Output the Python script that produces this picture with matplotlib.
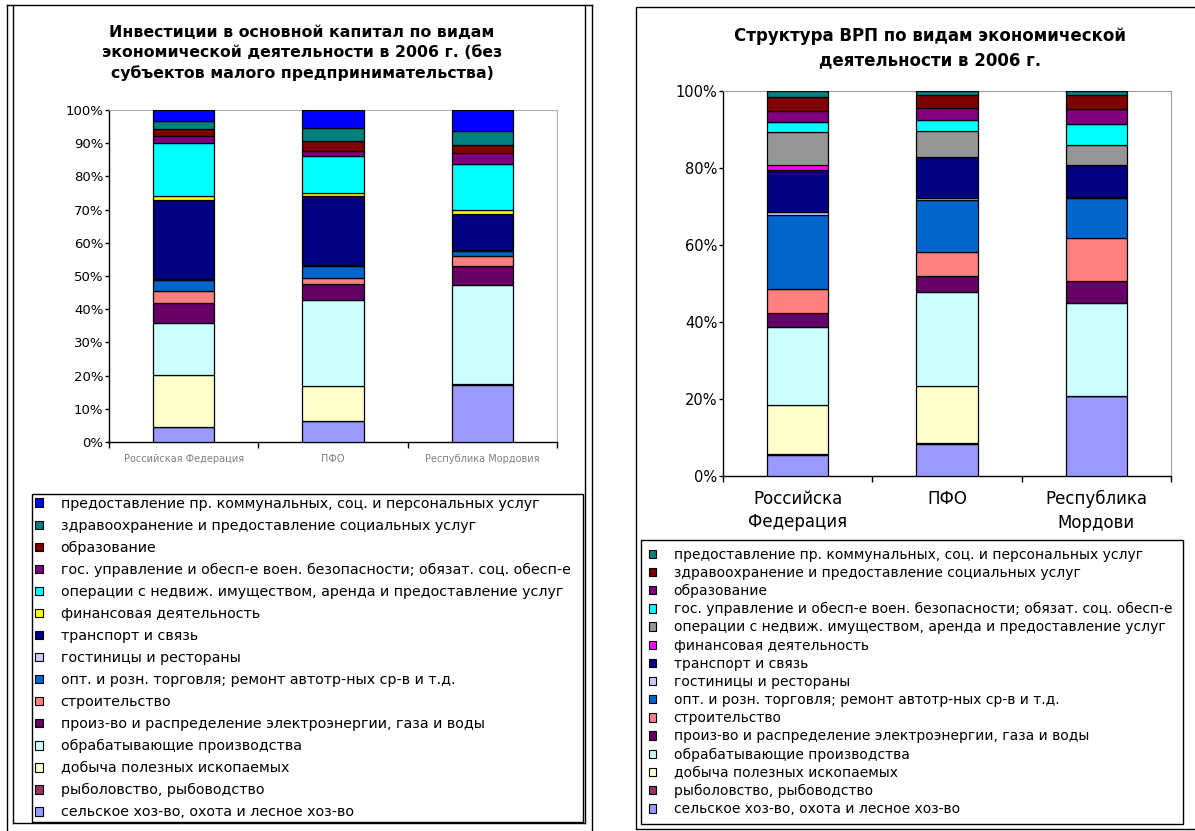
import matplotlib
matplotlib.use('Agg')
import matplotlib.pyplot as plt
from matplotlib.patches import Patch, Rectangle
from matplotlib.lines import Line2D
from matplotlib.ticker import FuncFormatter, FixedLocator

plt.rcParams['font.family'] = ['DejaVu Sans']

W, H = 1195, 831

regions_left = ['Российская Федерация', 'ПФО', 'Республика Мордовия']
regions_right = ['Российска\nФедерация', 'ПФО', 'Республика\nМордови\nя']

# виды деятельности снизу вверх
sectors = [
    'сельское хоз-во, охота и лесное хоз-во',
    'рыболовство, рыбоводство',
    'добыча полезных ископаемых',
    'обрабатывающие производства',
    'произ-во и распределение электроэнергии, газа и воды',
    'строительство',
    'опт. и розн. торговля; ремонт автотр-ных ср-в и т.д.',
    'гостиницы и рестораны',
    'транспорт и связь',
    'финансовая деятельность',
    'операции с недвиж. имуществом, аренда и предоставление услуг',
    'гос. управление и обесп-е воен. безопасности; обязат. соц. обесп-е',
    'образование',
    'здравоохранение и предоставление социальных услуг',
    'предоставление пр. коммунальных, соц. и персональных услуг',
]

# инвестиции, % (РФ, ПФО, Мордовия)
inv_rf = [4.5, 0.1, 15.7, 15.4, 6.3, 3.4, 3.5, 0.3, 23.7, 1.2, 16.1, 1.9, 2.1, 2.6, 3.2]
inv_pfo = [6.3, 0.1, 10.5, 25.8, 5.0, 1.8, 3.5, 0.2, 20.9, 0.9, 11.0, 1.8, 2.8, 4.0, 5.4]
inv_rm = [17.3, 0.05, 0.05, 30.0, 5.6, 3.0, 1.6, 0.2, 11.0, 1.0, 13.9, 3.3, 2.5, 4.2, 6.3]

# структура ВРП, %
vrp_rf = [5.4, 0.4, 12.6, 20.3, 3.7, 6.1, 19.4, 0.7, 10.9, 1.2, 8.7, 2.6, 2.9, 3.5, 1.6]
vrp_pfo = [8.4, 0.1, 14.9, 24.3, 4.3, 6.3, 13.4, 0.6, 10.5, 0.1, 6.8, 2.7, 3.3, 3.3, 1.0]
vrp_rm = [20.7, 0.1, 0.1, 24.1, 5.7, 11.0, 10.4, 0.3, 8.4, 0.1, 5.1, 5.3, 4.1, 3.6, 1.0]

colors_left = ['#9999FF', '#993366', '#FFFFCC', '#CCFFFF', '#660066', '#FF8080',
               '#0066CC', '#CCCCFF', '#000080', '#FFFF00', '#00FFFF', '#800080',
               '#800000', '#008080', '#0000FF']
colors_right = ['#9999FF', '#993366', '#FFFFCC', '#CCFFFF', '#660066', '#FF8080',
                '#0066CC', '#CCCCFF', '#000080', '#FF00FF', '#969696', '#00FFFF',
                '#800080', '#800000', '#008080']


def fx(px):
    return px / W


def fy(py):
    return 1 - py / H


fig = plt.figure(figsize=(W / 100, H / 100), dpi=100)

# рамки панелей
for x in (7, 13, 585, 592):
    fig.add_artist(Line2D([fx(x), fx(x)], [fy(5), fy(831 if x in (7, 592) else 823)],
                          color='black', lw=1, transform=fig.transFigure))
fig.add_artist(Line2D([fx(7), fx(592)], [fy(5), fy(5)], color='black', lw=1, transform=fig.transFigure))
fig.add_artist(Line2D([fx(13), fx(585)], [fy(823), fy(823)], color='black', lw=1, transform=fig.transFigure))
fig.add_artist(Rectangle((fx(636), fy(829)), fx(1200) - fx(636), fy(7) - fy(829), fill=False,
                         edgecolor='black', lw=1, transform=fig.transFigure))


def draw(ax, data, colors, labels, step, tick_fs, xl_fs, xl_color, edge_grey):
    bottoms = [0.0] * len(data)
    for i in range(len(sectors)):
        vals = [d[i] for d in data]
        ax.bar(range(len(data)), vals, width=0.41, bottom=bottoms, color=colors[i],
               edgecolor='black', linewidth=0.9, zorder=3)
        bottoms = [b + v for b, v in zip(bottoms, vals)]
    ax.set_xlim(-0.5, len(data) - 0.5)
    ax.set_ylim(0, 100)
    ax.set_yticks(range(0, 101, step))
    ax.yaxis.set_major_formatter(FuncFormatter(lambda v, p: '%d%%' % v))
    ax.set_xticks(range(len(data)))
    ax.set_xticklabels(labels, fontsize=xl_fs, color=xl_color, linespacing=1.4)
    ax.xaxis.set_minor_locator(FixedLocator([-0.5, 0.5, 1.5, 2.5]))
    ax.tick_params(axis='x', which='major', length=0)
    ax.tick_params(axis='x', which='minor', length=4, width=1)
    ax.tick_params(axis='y', labelsize=tick_fs, length=3, width=1, pad=1)
    for s in ('top', 'right'):
        ax.spines[s].set_color(edge_grey)
    for s in ('left', 'bottom'):
        ax.spines[s].set_color('black')
        ax.spines[s].set_linewidth(1)


ax1 = fig.add_axes([fx(109), fy(442), fx(557) - fx(109), fy(110) - fy(442)])
draw(ax1, [inv_rf, inv_pfo, inv_rm], colors_left, regions_left, 10, 9.5, 7, '#808080', '#b0b0b0')
ax1.tick_params(axis='x', pad=9)

ax2 = fig.add_axes([fx(723), fy(476), fx(1171) - fx(723), fy(91) - fy(476)])
draw(ax2, [vrp_rf, vrp_pfo, vrp_rm], colors_right, regions_right, 20, 10.5, 12, 'black', '#a0a0a0')
ax2.tick_params(axis='x', pad=10)

fig.text(fx(302), fy(53), 'Инвестиции в основной капитал по видам\n'
         'экономической деятельности в 2006 г. (без\n'
         'субъектов малого предпринимательства)',
         ha='center', va='center', fontsize=11.3, fontweight='bold', linespacing=1.45)
fig.text(fx(930), fy(48), 'Структура ВРП по видам экономической\nдеятельности в 2006 г.',
         ha='center', va='center', fontsize=12, fontweight='bold', linespacing=1.4)


def legend(colors, box, fs, spacing, bpad):
    handles = [Patch(facecolor=colors[i], edgecolor='black', linewidth=0.8, label=sectors[i])
               for i in range(len(sectors) - 1, -1, -1)]
    x0, y0, x1, y1 = box
    lg = fig.legend(handles=handles, loc='upper left',
                    bbox_to_anchor=(fx(x0), fy(y1), fx(x1) - fx(x0), fy(y0) - fy(y1)),
                    mode='expand', borderaxespad=0, fontsize=fs, labelspacing=spacing,
                    handlelength=0.55, handleheight=0.55, handletextpad=1.25,
                    borderpad=bpad, fancybox=False, framealpha=1, edgecolor='black')
    lg.get_frame().set_linewidth(1)
    return lg


legend(colors_left, (32, 494, 583, 824), 10.3, 0.56, 0.2)
legend(colors_right, (641, 540, 1183, 825), 10, 0.30, 0.55)

fig.savefig('out.png', dpi=100)
